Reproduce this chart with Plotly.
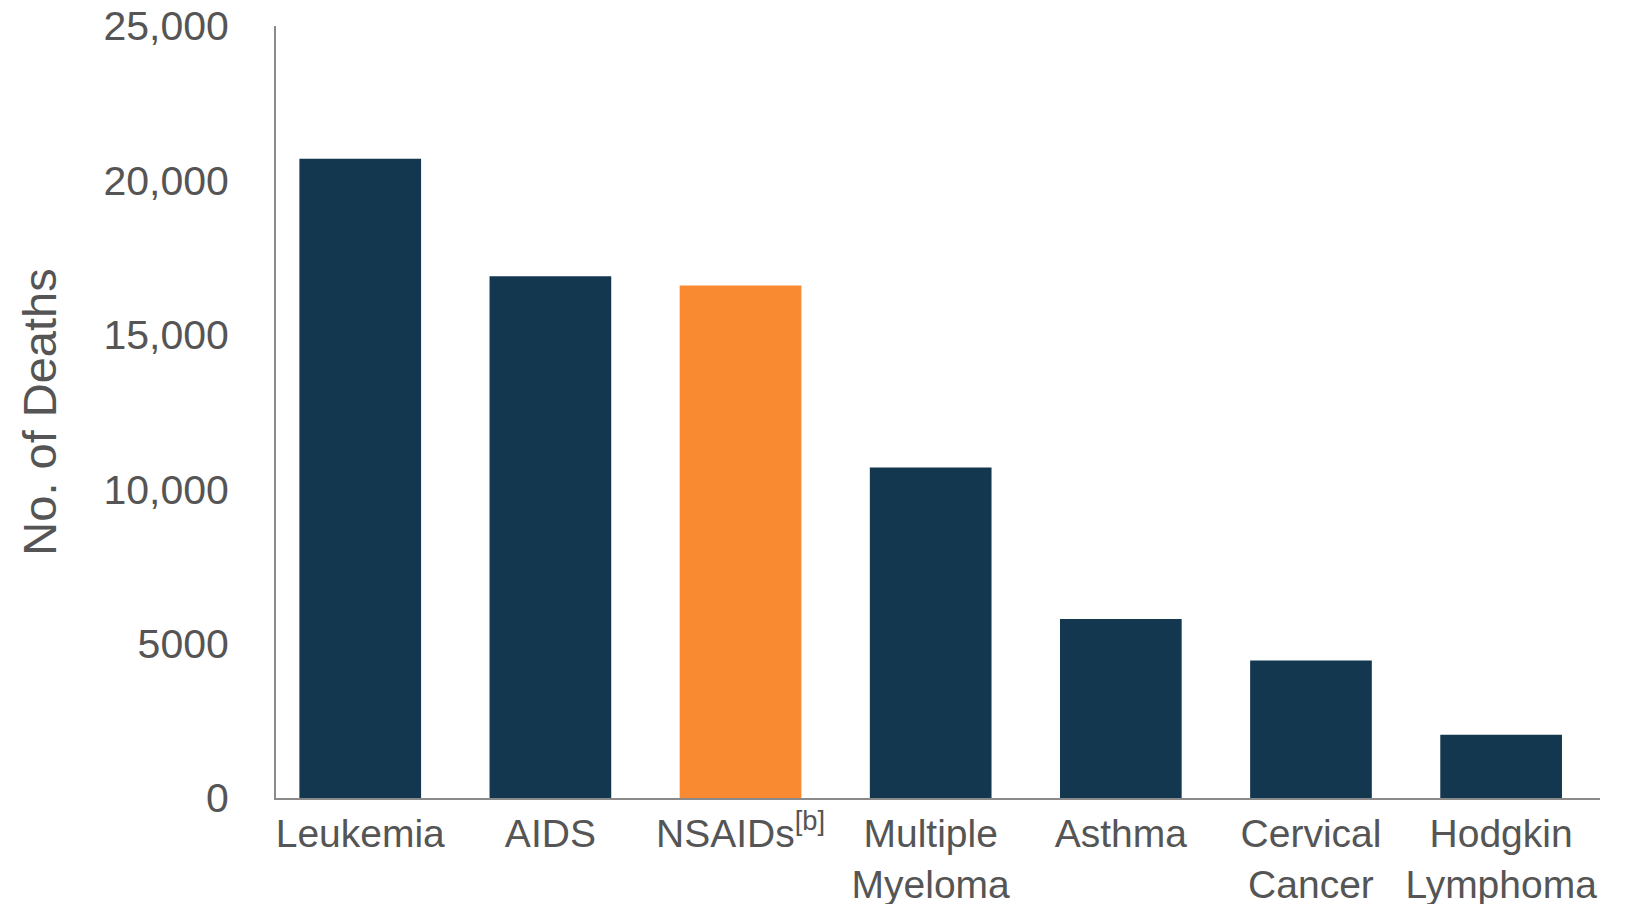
import plotly.graph_objects as go

# Annual deaths by cause
categories = [
    "Leukemia",
    "AIDS",
    "NSAIDs<sup>[b]</sup>",
    "Multiple<br>Myeloma",
    "Asthma",
    "Cervical<br>Cancer",
    "Hodgkin<br>Lymphoma",
]
deaths = [20700, 16900, 16600, 10700, 5800, 4450, 2050]
highlight = "NSAIDs<sup>[b]</sup>"

y_tick_values = [0, 5000, 10000, 15000, 20000, 25000]
y_tick_labels = ["0", "5000", "10,000", "15,000", "20,000", "25,000"]

NAVY = "#13374F"
ORANGE = "#F98A31"
TEXT = "#555555"
AXIS = "#8a8a8a"
FONT = "Liberation Sans, Arial, sans-serif"

colors = [ORANGE if c == highlight else NAVY for c in categories]

fig = go.Figure(
    go.Bar(
        x=categories,
        y=deaths,
        marker=dict(color=colors, line=dict(width=0)),
        hoverinfo="x+y",
    )
)

fig.update_layout(
    width=1635,
    height=904,
    margin=dict(l=276, r=35, t=26, b=106),
    paper_bgcolor="white",
    plot_bgcolor="white",
    bargap=0.36,
    showlegend=False,
    font=dict(family=FONT, color=TEXT, size=39),
)

fig.update_xaxes(
    range=[-0.443, 6.52],
    showline=True,
    linecolor=AXIS,
    linewidth=2,
    ticks="",
    showgrid=False,
    zeroline=False,
    tickfont=dict(size=39, color=TEXT, family=FONT),
    automargin=False,
)

fig.update_yaxes(
    range=[0, 25000],
    tickvals=y_tick_values,
    ticktext=y_tick_labels,
    showline=True,
    linecolor=AXIS,
    linewidth=2,
    ticks="",
    ticklabelstandoff=37,
    showgrid=False,
    zeroline=False,
    tickfont=dict(size=41, color=TEXT, family=FONT),
    title=dict(text="No. of Deaths", font=dict(size=47, color=TEXT, family=FONT), standoff=32),
    automargin=False,
)

fig.write_html("out.html")
